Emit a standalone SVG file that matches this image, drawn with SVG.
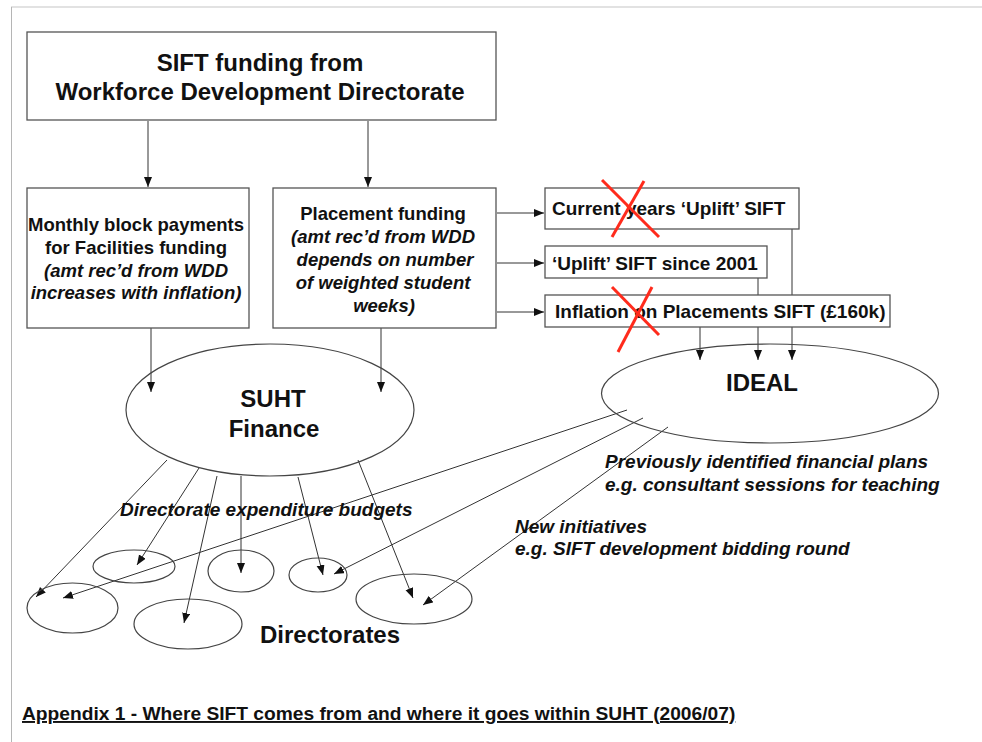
<svg xmlns="http://www.w3.org/2000/svg" width="982" height="742" viewBox="0 0 982 742">
<defs>
<marker id="ah" markerUnits="userSpaceOnUse" markerWidth="11" markerHeight="9" refX="10" refY="4" orient="auto">
<path d="M0,0 L10,4 L0,8 z" fill="#111"/>
</marker>
<style>
.box{fill:#fff;stroke:#555;stroke-width:1.3}
.ell{fill:none;stroke:#444;stroke-width:1.2}
.con{fill:none;stroke:#333;stroke-width:1;marker-end:url(#ah)}
.x{stroke:#ff2b1c;stroke-width:3;stroke-linecap:butt}
text{font-family:"Liberation Sans",Arial,Helvetica,sans-serif;fill:#111;font-weight:bold}
.big{font-size:24px}
.sm{font-size:18.5px}
.lb{font-size:19px}
.cap{font-size:19.2px}
.it{font-style:italic}
.mid{text-anchor:middle}
</style>
</defs>
<rect width="982" height="742" fill="#fff"/>
<g id="page-border">
<line x1="11" y1="7" x2="982" y2="7" stroke="#e2e2e2" stroke-width="2"/>
<line x1="11.5" y1="7" x2="11.5" y2="742" stroke="#b5b5b5" stroke-width="1"/>
</g>

<g id="connectors">
<line class="con" x1="148" y1="121" x2="148" y2="187"/>
<line class="con" x1="368" y1="121" x2="368" y2="187"/>
<line class="con" x1="497" y1="213" x2="544" y2="213"/>
<line class="con" x1="497" y1="263" x2="544" y2="263"/>
<line class="con" x1="497" y1="312" x2="544" y2="312"/>
<line class="con" x1="700" y1="327" x2="700" y2="360"/>
<line class="con" x1="758" y1="278" x2="758" y2="360"/>
<line class="con" x1="792" y1="229" x2="792" y2="360"/>
<line class="con" x1="151" y1="328" x2="151" y2="392"/>
<line class="con" x1="381" y1="328" x2="381" y2="392"/>
<line class="con" x1="167" y1="460" x2="36" y2="597"/>
<line class="con" x1="199" y1="468" x2="137" y2="565"/>
<line class="con" x1="217" y1="476" x2="184" y2="623"/>
<line class="con" x1="241" y1="476" x2="241" y2="573"/>
<line class="con" x1="298" y1="477" x2="323" y2="575"/>
<line class="con" x1="358" y1="460" x2="413" y2="598"/>
<line class="con" x1="627" y1="410" x2="63" y2="598"/>
<line class="con" x1="643" y1="418" x2="334" y2="574"/>
<line class="con" x1="668" y1="427" x2="423" y2="605"/>
</g>

<g id="wdd">
<rect class="box" x="27" y="32" width="469" height="88"/>
<text class="big mid" x="260" y="71">SIFT funding from</text>
<text class="big mid" x="260" y="100">Workforce Development Directorate</text>
</g>

<g id="block-payments">
<rect class="box" x="27" y="188" width="222" height="140"/>
<text class="sm mid" x="136" y="231">Monthly block payments</text>
<text class="sm mid" x="136" y="254">for Facilities funding</text>
<text class="sm mid it" x="136" y="277">(amt rec’d from WDD</text>
<text class="sm mid it" x="136" y="299">increases with inflation)</text>
</g>

<g id="placement-funding">
<rect class="box" x="273" y="188" width="223" height="140"/>
<text class="sm mid" x="383" y="220">Placement funding</text>
<text class="sm mid it" x="383" y="243">(amt rec’d from WDD</text>
<text class="sm mid it" x="385" y="266">depends on number</text>
<text class="sm mid it" x="383" y="289">of weighted student</text>
<text class="sm mid it" x="384" y="312">weeks)</text>
</g>

<g id="current-uplift">
<rect class="box" x="545" y="188" width="254" height="41"/>
<text class="lb" x="552" y="215">Current years ‘Uplift’ SIFT</text>
</g>

<g id="uplift-2001">
<rect class="box" x="545" y="246" width="222" height="32"/>
<text class="lb" x="552" y="270">‘Uplift’ SIFT since 2001</text>
</g>

<g id="inflation-placements">
<rect class="box" x="545" y="295" width="345" height="32"/>
<text class="lb" x="555" y="318">Inflation on Placements SIFT (£160k)</text>
</g>

<g id="crossouts">
<line class="x" x1="602" y1="180" x2="659" y2="237"/>
<line class="x" x1="644" y1="181" x2="612" y2="237"/>
<line class="x" x1="612" y1="287" x2="659" y2="335"/>
<line class="x" x1="652" y1="287" x2="618" y2="352"/>
</g>

<g id="suht-finance">
<ellipse class="ell" cx="270" cy="410" rx="144" ry="66"/>
<text class="big mid" x="273" y="407">SUHT</text>
<text class="big mid" x="274" y="437">Finance</text>
</g>

<g id="ideal">
<ellipse class="ell" cx="770" cy="393.5" rx="168.5" ry="49.5"/>
<text class="big mid" x="762" y="391">IDEAL</text>
</g>

<g id="dir1"><ellipse class="ell" cx="72.5" cy="608" rx="45.5" ry="25"/></g>
<g id="dir2"><ellipse class="ell" cx="134" cy="566.5" rx="41" ry="16.5"/></g>
<g id="dir3"><ellipse class="ell" cx="188" cy="624" rx="54" ry="25"/></g>
<g id="dir4"><ellipse class="ell" cx="241" cy="571" rx="33" ry="21"/></g>
<g id="dir5"><ellipse class="ell" cx="318" cy="575" rx="29" ry="17"/></g>
<g id="dir6"><ellipse class="ell" cx="414" cy="599" rx="58" ry="25"/></g>

<g id="labels">
<text class="lb it" x="120" y="516">Directorate expenditure budgets</text>
<text class="big" x="260" y="643">Directorates</text>
<text class="lb it" x="605" y="468">Previously identified financial plans</text>
<text class="lb it" x="605" y="491">e.g. consultant sessions for teaching</text>
<text class="lb it" x="515" y="533">New initiatives</text>
<text class="lb it" x="515" y="555">e.g. SIFT development bidding round</text>
<text class="cap" x="22" y="720" text-decoration="underline">Appendix 1 - Where SIFT comes from and where it goes within SUHT (2006/07)</text>
</g>
</svg>
